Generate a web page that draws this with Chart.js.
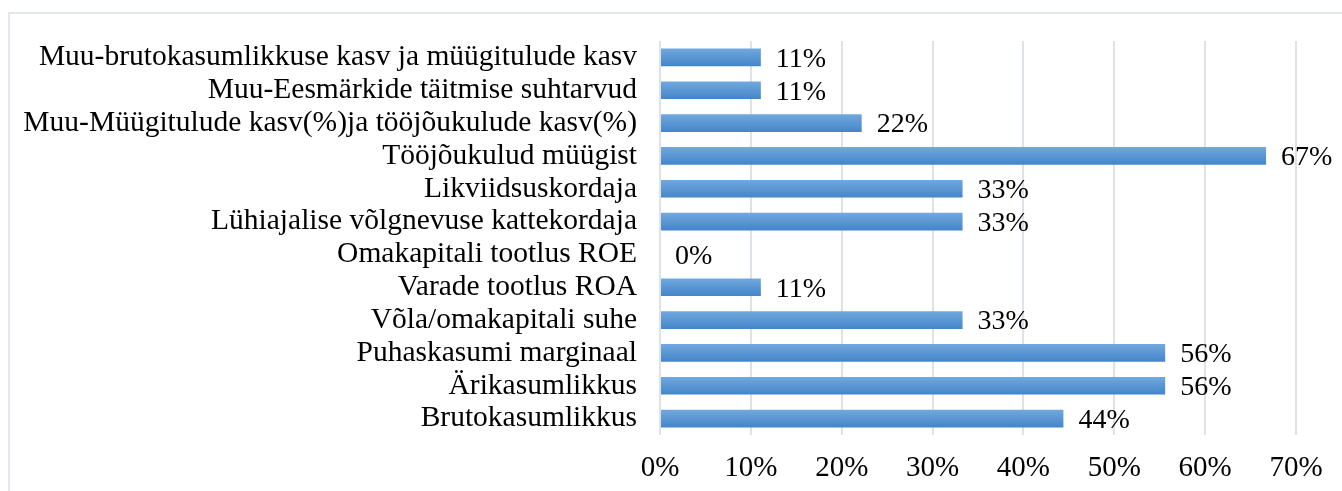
<!DOCTYPE html>
<html>
<head>
<meta charset="utf-8">
<script src="https://cdn.jsdelivr.net/npm/chart.js@4/dist/chart.umd.min.js"></script>
<style>
  html, body { margin: 0; padding: 0; background: #fff; overflow: hidden; }
  #wrap { position: relative; width: 1342px; height: 491px; }
  #frame { position: absolute; left: 8px; top: 12px; width: 1400px; height: 500px; border: 2px solid #e3e7ed; box-sizing: border-box; }
  canvas { position: absolute; left: 0; top: 0; }
</style>
</head>
<body>
<div id="wrap">
  <div id="frame"></div>
  <canvas id="chart" width="1342" height="491"></canvas>
</div>
<script>
// ===== Datos =====
const categories = [
  'Muu-brutokasumlikkuse kasv ja müügitulude kasv',
  'Muu-Eesmärkide täitmise suhtarvud',
  'Muu-Müügitulude kasv(%)ja tööjõukulude kasv(%)',
  'Tööjõukulud müügist',
  'Likviidsuskordaja',
  'Lühiajalise võlgnevuse kattekordaja',
  'Omakapitali tootlus ROE',
  'Varade tootlus ROA',
  'Võla/omakapitali suhe',
  'Puhaskasumi marginaal',
  'Ärikasumlikkus',
  'Brutokasumlikkus'
];
const shares = [11.1, 11.1, 22.2, 66.7, 33.3, 33.3, 0, 11.1, 33.3, 55.6, 55.6, 44.4];
const xTicks = [0, 10, 20, 30, 40, 50, 60, 70];

const FONT = '"Liberation Serif", "Times New Roman", serif';

// Degradado vertical en cada barra
function barGradient(context) {
  const chart = context.chart;
  if (!chart.chartArea || context.type !== 'data') return '#5b9bd5';
  const yc = chart.scales.y.getPixelForValue(context.dataIndex);
  const g = chart.ctx.createLinearGradient(0, yc - 9, 0, yc + 9);
  g.addColorStop(0, '#72a9de');
  g.addColorStop(1, '#4384c9');
  return g;
}

// Etiquetas de valor al final de cada barra
const valueLabels = {
  id: 'valueLabels',
  afterDatasetsDraw(chart) {
    const ctx = chart.ctx;
    const meta = chart.getDatasetMeta(0);
    ctx.save();
    ctx.font = '28px ' + FONT;
    ctx.fillStyle = '#000';
    ctx.textAlign = 'left';
    ctx.textBaseline = 'middle';
    meta.data.forEach((bar, i) => {
      ctx.fillText(Math.round(shares[i]) + '%', bar.x + 15, bar.y + 2);
    });
    ctx.restore();
  }
};

new Chart(document.getElementById('chart'), {
  type: 'bar',
  data: {
    labels: categories,
    datasets: [{
      data: shares,
      backgroundColor: barGradient,
      borderWidth: 0,
      barPercentage: 0.54,
      categoryPercentage: 1
    }]
  },
  options: {
    indexAxis: 'y',
    responsive: false,
    animation: false,
    layout: { padding: { top: 41, right: 46, bottom: 0, left: 0 } },
    plugins: {
      legend: { display: false },
      tooltip: { enabled: false }
    },
    scales: {
      x: {
        min: xTicks[0],
        max: xTicks[xTicks.length - 1],
        afterBuildTicks: (scale) => { scale.ticks = xTicks.map(v => ({ value: v })); },
        afterFit: (scale) => { scale.height = 56; },
        ticks: {
          color: '#000',
          font: { family: FONT, size: 29 },
          padding: 16,
          maxRotation: 0,
          callback: (v) => v + '%'
        },
        grid: { color: '#dde2e9', lineWidth: 2, drawTicks: false },
        border: { display: false }
      },
      y: {
        afterFit: (scale) => { scale.width = 660; },
        ticks: {
          color: '#000',
          font: { family: FONT, size: 29.5 },
          padding: 15,
          autoSkip: false
        },
        grid: { display: false },
        border: { display: false }
      }
    }
  },
  plugins: [valueLabels]
});
</script>
</body>
</html>
